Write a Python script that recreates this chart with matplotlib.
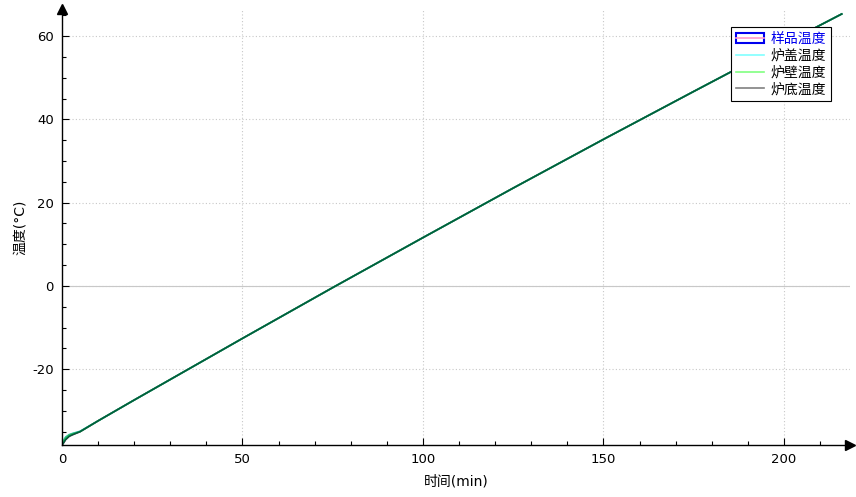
import matplotlib
matplotlib.use("Agg")
import matplotlib.pyplot as plt
from matplotlib.lines import Line2D
from matplotlib.patches import Rectangle
from matplotlib.ticker import MultipleLocator

plt.rcParams['font.family'] = ['DejaVu Sans', 'Noto Sans CJK SC']
plt.rcParams['axes.unicode_minus'] = False

# time axis (min) and the four temperature curves (°C)
time_min = [0, 0.5, 1, 2, 3, 5, 10, 20, 35, 50, 75, 100, 125, 150, 175, 200, 216]
sample_temp = [-38.2, -37.6, -36.9, -36.1, -35.7, -35.0, -32.4, -27.4, -20.0, -12.6,
               -0.4, 11.6, 23.5, 35.2, 46.7, 58.1, 65.3]
lid_temp = [-38.2, -37.0, -36.3, -35.7, -35.4, -34.9, -32.4, -27.4, -20.0, -12.6,
            -0.4, 11.6, 23.5, 35.2, 46.7, 58.1, 65.3]
wall_temp = [-38.2, -37.2, -36.5, -35.8, -35.5, -35.0, -32.4, -27.4, -20.0, -12.6,
             -0.4, 11.6, 23.5, 35.2, 46.7, 58.1, 65.3]
bottom_temp = [-38.2, -37.6, -36.9, -36.1, -35.7, -35.0, -32.4, -27.4, -20.0, -12.6,
               -0.4, 11.6, 23.5, 35.2, 46.7, 58.1, 65.3]

labels = ['样品温度', '炉盖温度', '炉壁温度', '炉底温度']
legend_colors = ['#ff99cc', '#80ffff', '#80ff80', '#808080']
line_colors = ['#b03070', '#20c0c0', '#30c060', '#005e3c']

W, H = 856, 497
fig = plt.figure(figsize=(W / 100, H / 100), dpi=100)
ax = fig.add_axes([62 / W, 52 / H, (850 - 62) / W, (445 - 9) / H])

for ys, c in zip([sample_temp, lid_temp, wall_temp, bottom_temp], line_colors):
    ax.plot(time_min, ys, color=c, lw=1.2)

ax.set_xlim(0, 218.3)
ax.set_ylim(-38.2, 66.5)
ax.xaxis.set_major_locator(MultipleLocator(50))
ax.xaxis.set_minor_locator(MultipleLocator(10))
ax.yaxis.set_major_locator(MultipleLocator(20))
ax.yaxis.set_minor_locator(MultipleLocator(5))
ax.tick_params(which='both', direction='in', labelsize=9.5, width=0.8, pad=6)
ax.tick_params(which='major', length=5)
ax.tick_params(which='minor', length=3)

ax.grid(True, which='major', ls=(0, (1, 2)), color='#c8c8c8', lw=0.8)
ax.axhline(0, color='#c8c8c8', lw=0.8, zorder=0)

for s in ['top', 'right']:
    ax.spines[s].set_visible(False)
for s in ['left', 'bottom']:
    ax.spines[s].set_linewidth(1.0)
ax.plot(1, 0, '>k', ms=7, transform=ax.transAxes, clip_on=False)
ax.plot(0, 1, '^k', ms=7, transform=ax.transAxes, clip_on=False)

ax.set_xlabel('时间(min)', fontsize=10, labelpad=6)
ax.set_ylabel('温度(°C)', fontsize=10, labelpad=4)

handles = [(Rectangle((0, 0), 1, 1, fc='none', ec='#0000ee', lw=1.5),
            Line2D([], [], color=legend_colors[0], lw=1.2))]
handles += [Line2D([], [], color=c, lw=1.2) for c in legend_colors[1:]]
leg = ax.legend(handles, labels, loc='upper right', bbox_to_anchor=(831 / W, 1 - 27 / H),
                bbox_transform=fig.transFigure, fontsize=10, frameon=True, fancybox=False,
                framealpha=1, edgecolor='black', borderpad=0.35, labelspacing=0.2,
                handlelength=2.0, handletextpad=0.5, borderaxespad=0)
leg.get_frame().set_linewidth(0.8)
leg.get_texts()[0].set_color('#0000ee')

fig.savefig('out.png', dpi=100)
